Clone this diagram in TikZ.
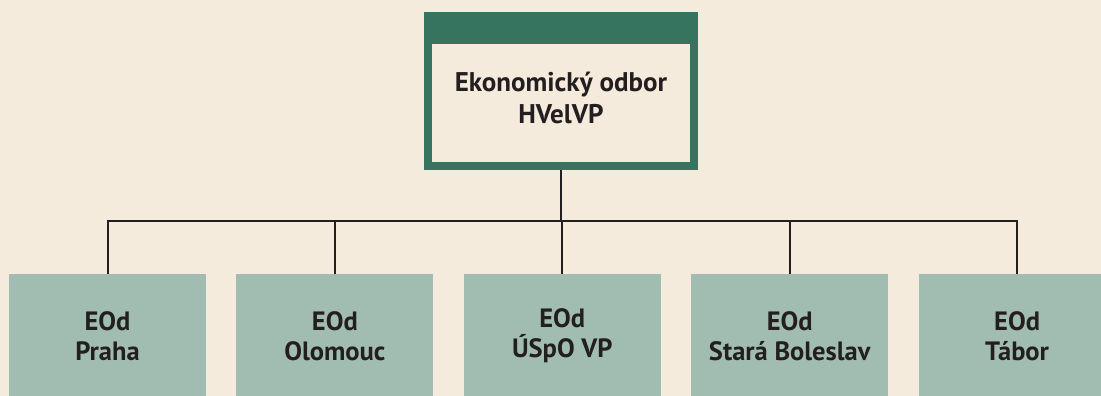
\documentclass[tikz,border=0pt]{standalone}
\usepackage{fontspec}
\setmainfont{PT Sans}
\usetikzlibrary{positioning}
\definecolor{paper}{HTML}{F5EBDC}
\definecolor{hvgreen}{HTML}{367460}
\definecolor{unitgreen}{HTML}{A1BDB1}
\definecolor{ink}{HTML}{231F20}
\tikzstyle{head_node} = [
    rectangle,
    draw=hvgreen,
    line width=8pt,
    fill=paper,
    minimum width=266pt,
    minimum height=150pt,
    inner sep=0pt,
    path picture={
        \fill[hvgreen] (path picture bounding box.north west)
            rectangle ([yshift=-28pt]path picture bounding box.north east);
    }
]
\tikzstyle{unit_node} = [
    rectangle,
    fill=unitgreen,
    align=center,
    text=ink,
    font=\fontsize{26.5}{30}\selectfont\bfseries,
    minimum width=197pt,
    minimum height=124pt,
    inner sep=0pt
]
\tikzstyle{label_text} = [
    align=center,
    text=ink,
    font=\fontsize{27}{32}\selectfont\bfseries
]
\tikzstyle{link} = [draw=ink, line width=2pt]

\begin{document}
\begin{tikzpicture}[x=1pt, y=1pt]
\useasboundingbox (0,0) rectangle (1101,-396);
\clip (0,0) rectangle (1101,-396);
\fill[paper] (0,0) rectangle (1101,-396);

\node [head_node] (hv) at (561,-91) {};
\node [label_text] (hvtext) at (561,-98) {Ekonomický odbor\\HVelVP};

\node [unit_node] (praha) at (107.5,-336) {EOd\\Praha};
\node [unit_node, right=30pt of praha] (olomouc) {EOd\\Olomouc};
\node [unit_node, right=30pt of olomouc] (uspo) {EOd\\ÚSpO VP};
\node [unit_node, right=30pt of uspo] (stara) {EOd\\Stará Boleslav};
\node [unit_node, right=30pt of stara] (tabor) {EOd\\Tábor};

\foreach \unit in {praha, olomouc, uspo, stara, tabor}
    \draw [link] (hv.south) -- ++(0,-51) -| (\unit.north);
\end{tikzpicture}
\end{document}
